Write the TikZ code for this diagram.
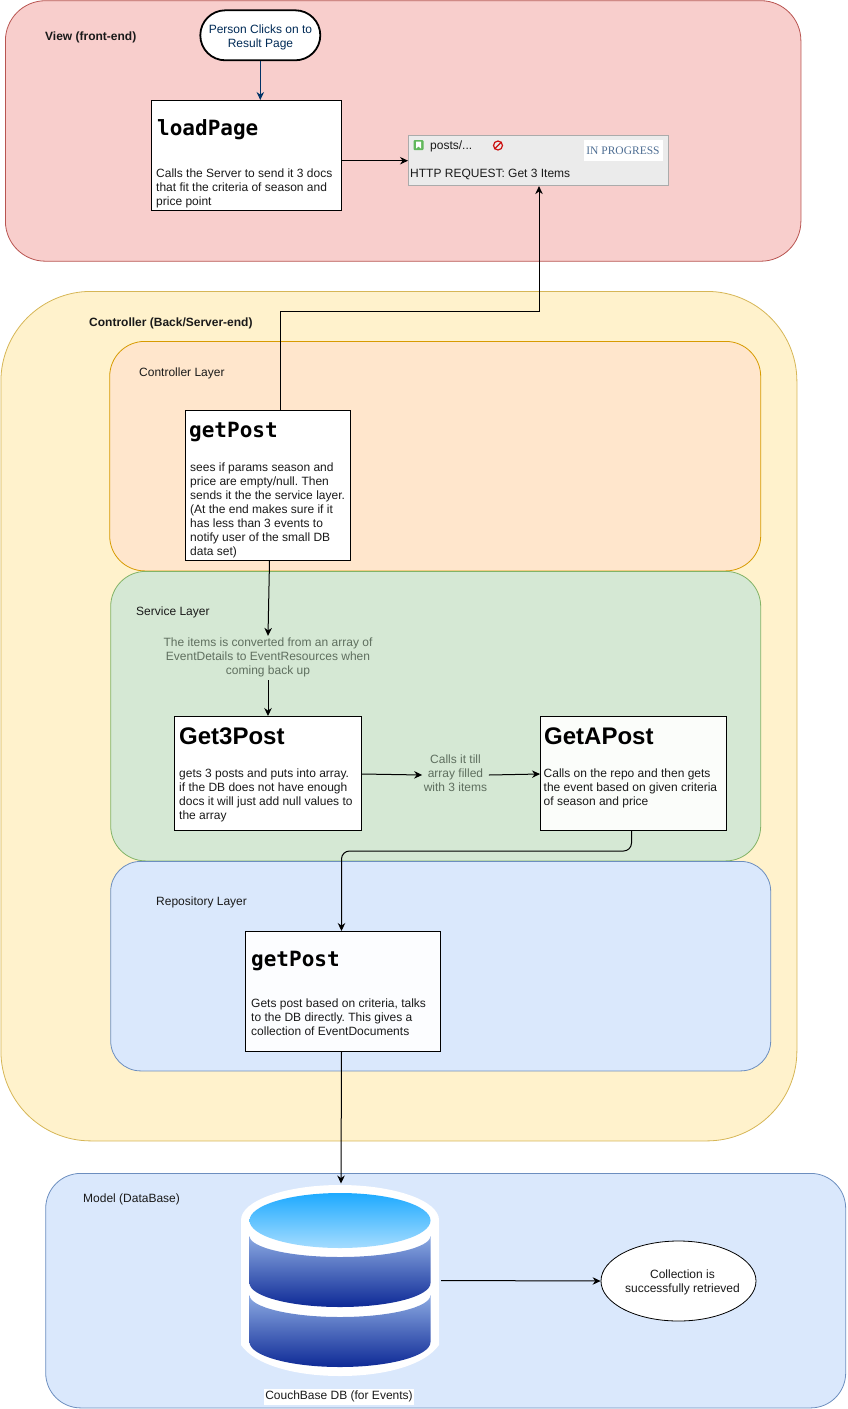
\documentclass[tikz,border=0pt]{standalone}
\usepackage{fontspec}
\setmainfont{Liberation Sans}
\setmonofont{DejaVu Sans Mono}
\newfontfamily\tagserif{Liberation Serif}
\usetikzlibrary{arrows.meta,calc,shapes.geometric}
\frenchspacing
\definecolor{viewfill}{HTML}{F8CECC}\definecolor{viewline}{HTML}{B85450}
\definecolor{ctrlfill}{HTML}{FFF2CC}\definecolor{ctrlline}{HTML}{D6B656}
\definecolor{layerfill}{HTML}{FFE6CC}\definecolor{layerline}{HTML}{D79B00}
\definecolor{svcfill}{HTML}{D5E8D4}\definecolor{svcline}{HTML}{82B366}
\definecolor{repofill}{HTML}{DAE8FC}\definecolor{repoline}{HTML}{6C8EBF}
\definecolor{navy}{HTML}{003366}
\definecolor{inktext}{HTML}{1A1A1A}
\definecolor{fadetext}{HTML}{5F6F5F}
\definecolor{taskfill}{HTML}{EBEBEB}
\definecolor{taskline}{HTML}{ABABAB}
\definecolor{tagblue}{HTML}{4F6F94}
\definecolor{gafill}{HTML}{FBFDFA}
\definecolor{rpfill}{HTML}{FCFDFF}
\definecolor{bodytop}{HTML}{8CAAE2}
\definecolor{bodybot}{HTML}{0E2A96}
\definecolor{captop}{HTML}{1EAAFF}
\definecolor{capbot}{HTML}{A4DCFF}
\definecolor{iconred}{HTML}{CC1111}
\definecolor{icongreen}{HTML}{62B85C}
\tikzset{
  x=1pt,y=-1pt,
  region/.style={draw=#1,line width=0.8pt,anchor=north west,inner sep=0pt},
  card/.style={draw=black,fill=white,line width=1pt,anchor=north west,inner sep=0pt},
  conn/.style={draw=black,line width=1pt,-{Stealth[length=8pt,width=7.5pt]}},
  txt/.style={font=\fontsize{12}{14}\selectfont,text=inktext,inner sep=0pt,align=left,anchor=north west,execute at begin node=\strut},
  boldtxt/.style={txt,font=\fontsize{12}{14}\selectfont\bfseries},
  fade/.style={txt,text=fadetext,align=center,anchor=center,inner sep=1.5pt},
  monotitle/.style={inner sep=0pt,anchor=west,text=black,font=\fontsize{21}{24}\selectfont\ttfamily\bfseries},
  sanstitle/.style={inner sep=0pt,anchor=west,text=black,font=\fontsize{24}{28}\selectfont\bfseries},
}
\begin{document}
\begin{tikzpicture}
\useasboundingbox (0,0) rectangle (847,1409);
% regions
\node[region=viewline,fill=viewfill,minimum width=795.5pt,minimum height=260.5pt,rounded corners=40pt] (view) at (5,0.3) {};
\node[region=ctrlline,fill=ctrlfill,minimum width=796pt,minimum height=849.5pt,rounded corners=90pt] (ctrl) at (0.5,291) {};
\node[region=layerline,fill=layerfill,minimum width=651pt,minimum height=229.5pt,rounded corners=35pt] (clayer) at (109.3,341) {};
\node[region=svcline,fill=svcfill,minimum width=650pt,minimum height=289.5pt,rounded corners=35pt] (slayer) at (110.3,571) {};
\node[region=repoline,fill=repofill,minimum width=660pt,minimum height=209.5pt,rounded corners=30pt] (rlayer) at (110.3,861) {};
\node[region=repoline,fill=repofill,minimum width=800pt,minimum height=234.5pt,rounded corners=35pt] (model) at (45.3,1173) {};
% region labels
\node[boldtxt] (lview) at (45,30) {View (front-end)};
\node[boldtxt] (lctrl) at (89,316) {Controller (Back/Server-end)};
\node[txt] (lclayer) at (139,366) {Controller Layer};
\node[txt] (lslayer) at (136,605) {Service Layer};
\node[txt] (lrlayer) at (156,895) {Repository Layer};
\node[txt] (lmodel) at (83,1192) {Model (DataBase)};
% view
\node[draw=black,fill=white,line width=1.8pt,minimum width=120pt,minimum height=50pt,rounded corners=25pt,inner sep=0pt] (person) at (260.3,35.3) {};
\node[txt,text=navy!85!black,align=center,anchor=center] (persontxt) at (260.5,38) {Person Clicks on to\\Result Page};
\node[card,minimum width=190pt,minimum height=110pt] (load) at (150.5,100) {};
\node[monotitle] (loadt) at (157,130) {loadPage};
\node[txt] (loadb) at (156,169) {Calls the Server to send it 3 docs\\that fit the criteria of season and\\price point};
\node[draw=taskline,fill=taskfill,line width=0.8pt,minimum width=260pt,minimum height=50pt,anchor=north west,inner sep=0pt] (posts) at (408,135.3) {};
\node[fill=icongreen,rounded corners=1pt,minimum size=10pt,inner sep=0pt] (bookicon) at (418.5,145) {};
\fill[white] (416,141.5) -- (421,141.5) -- (421,148.5) -- (418.5,146.5) -- (416,148.5) -- cycle;
\node[txt] (poststxt) at (430,139) {posts/...};
\node[circle,draw=iconred,line width=1.2pt,minimum size=9pt,inner sep=0pt] (stopicon) at (498,145.5) {};
\draw[iconred,line width=1.2pt] (stopicon.north east) -- (stopicon.south west);
\node[fill=white,minimum width=79pt,minimum height=21pt,inner sep=0pt,text=tagblue,font=\fontsize{11.5}{13}\selectfont\tagserif] (tag) at (623,150.5) {IN PROGRESS};
\node[txt] (httptxt) at (410,167.5) {HTTP REQUEST: Get 3 Items};
% controller layer
\node[card,minimum width=165pt,minimum height=150pt] (gp) at (185,410) {};
\node[monotitle] (gpt) at (189,432) {getPost};
\node[txt] (gpb) at (190,463) {sees if params season and\\price are empty/null. Then\\sends it the the service layer.\\(At the end makes sure if it\\has less than 3 events to\\notify user of the small DB\\data set)};
% service layer
\node[fade] (items) at (268,658) {The items is converted from an array of\\EventDetails to EventResources when\\coming back up};
\node[card,minimum width=187pt,minimum height=114pt] (g3) at (174,716) {};
\node[sanstitle] (g3t) at (179,736) {Get3Post};
\node[txt] (g3b) at (179,769) {gets 3 posts and puts into array.\\if the DB does not have enough\\docs it will just add null values to\\the array};
\node[fade] (calls) at (455.5,775) {Calls it till\\array filled\\with 3 items};
\node[card,fill=gafill,minimum width=186pt,minimum height=114pt] (ga) at (540,716) {};
\node[sanstitle] (gat) at (544,736) {GetAPost};
\node[txt] (gab) at (543.5,769) {Calls on the repo and then gets\\the event based on given criteria\\of season and price};
% repository layer
\node[card,fill=rpfill,minimum width=195pt,minimum height=119.5pt] (rp) at (245,931) {};
\node[monotitle] (rpt) at (251,961) {getPost};
\node[txt] (rpb) at (251,999) {Gets post based on criteria, talks\\to the DB directly. This gives a\\collection of EventDocuments};
% database
\coordinate (dbtop) at (341,1183.5);
\fill[white] (241,1220) arc[start angle=180,end angle=360,x radius=99,y radius=35] -- (439,1345) .. controls (425,1365) and (385,1376) .. (340,1376) .. controls (295,1376) and (255,1365) .. (241,1345) -- cycle;
\shade[top color=bodytop,bottom color=bodybot,shading angle=0] (249.5,1236) arc[start angle=180,end angle=0,x radius=90.5,y radius=21] -- (430.5,1283) arc[start angle=0,end angle=180,x radius=90.5,y radius=24] -- cycle;
\shade[top color=bodytop,bottom color=bodybot,shading angle=0] (249.5,1295) arc[start angle=180,end angle=0,x radius=90.5,y radius=22] -- (430.5,1342) arc[start angle=0,end angle=180,x radius=90.5,y radius=25] -- cycle;
\node[ellipse,minimum width=181pt,minimum height=55pt,inner sep=0pt,top color=captop,bottom color=capbot] (dbcap) at (340,1220.5) {};
\node[txt,fill=white,anchor=center,inner sep=1pt,align=center] (dbname) at (339,1397) {CouchBase DB (for Events)};
\coordinate (dbeast) at (441,1280.5);
\node[ellipse,draw=black,fill=white,line width=0.8pt,minimum width=155pt,minimum height=80pt,inner sep=0pt] (done) at (678.5,1281) {};
\node[txt,align=center,anchor=center] (donetxt) at (682.5,1283) {Collection is\\successfully retrieved};
% connectors
\draw[conn,draw=navy,fill=navy] (person.south) -- (person.south |- load.north);
\draw[conn] (load.east |- posts.west) -- (posts.west);
\coordinate (turn) at (539,311);
\draw[conn] ([xshift=12.5pt]gp.north) |- (turn) -- (turn |- posts.south);
\draw[conn] ([xshift=1.5pt]gp.south) -- (items.north);
\draw[conn] (items.south) -- (g3.north);
\draw[conn] ([yshift=1pt]g3.east |- calls.west) -- (calls.west);
\draw[conn] (calls.east) -- ([yshift=1pt]ga.west |- calls.east);
\coordinate (mid) at (600,851);
\draw[conn,rounded corners=8pt] ([xshift=-2pt]ga.south) |- (mid) -| ([xshift=-1.5pt]rp.north);
\draw[conn] ([xshift=-1.5pt]rp.south) -- (dbtop);
\draw[conn] (dbeast) -- (done.west);
\end{tikzpicture}
\end{document}
